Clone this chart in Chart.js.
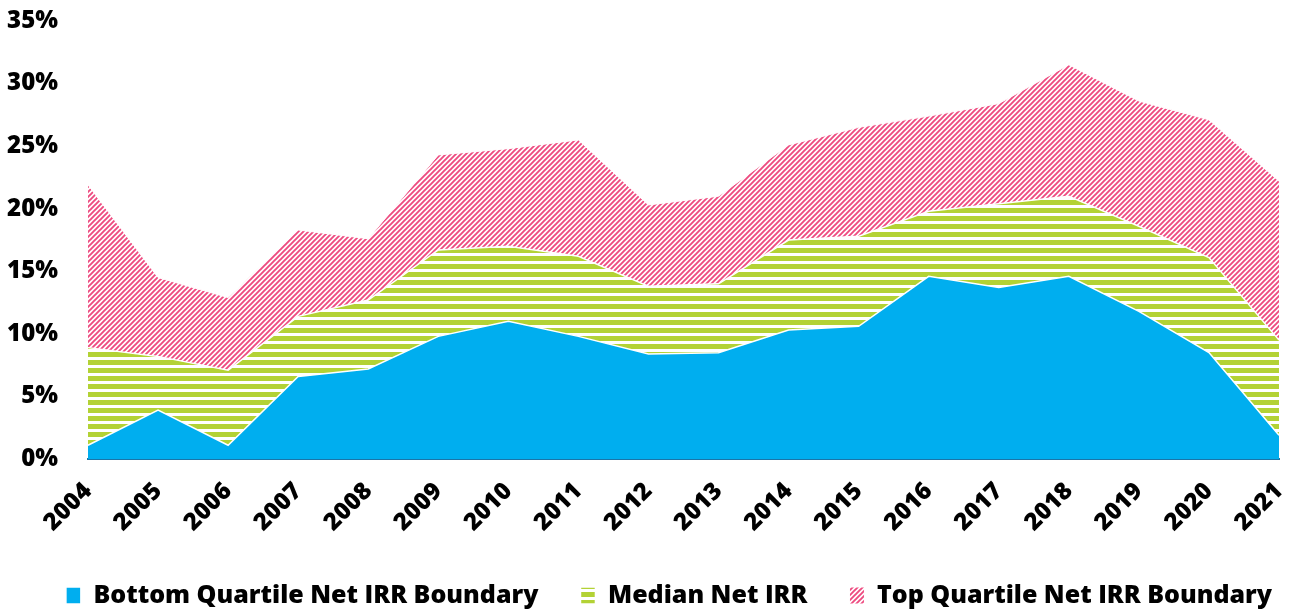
<!DOCTYPE html>
<html>
<head>
<meta charset="utf-8">
<script src="https://cdn.jsdelivr.net/npm/chart.js@4.4.1/dist/chart.umd.min.js"></script>
<style>
  html, body { margin: 0; padding: 0; background: #fff; }
  #wrap { width: 1292px; height: 609px; }
</style>
</head>
<body>
<div id="wrap"><canvas id="irrChart" width="1292" height="609"></canvas></div>
<script>
// vintage years
const years = ["2004","2005","2006","2007","2008","2009","2010","2011","2012",
  "2013","2014","2015","2016","2017","2018","2019","2020","2021"];

// net IRR boundaries, in %
const bottomQuartile = [1.1, 3.9, 1.1, 6.6, 7.2, 9.8, 11.0, 9.8, 8.4, 8.5, 10.3, 10.6, 14.6, 13.7, 14.6, 11.8, 8.5, 1.9];
const medianIrr      = [8.9, 8.2, 7.1, 11.4, 12.7, 16.7, 17.0, 16.2, 13.8, 14.0, 17.5, 17.8, 19.8, 20.4, 21.0, 18.6, 16.1, 9.5];
const topQuartile    = [21.9, 14.5, 12.9, 18.3, 17.6, 24.3, 24.8, 25.5, 20.3, 21.0, 25.1, 26.5, 27.4, 28.4, 31.5, 28.6, 27.1, 22.2];

const yTicks = [0, 5, 10, 15, 20, 25, 30, 35];

const BLUE = "#00AEEF";
const GREEN = "#B3D235";
const PINK = "#EE4B80";
const FONT = "'Open Sans', Lato, sans-serif";

// horizontal stripes for the median
function stripePattern() {
  const c = document.createElement("canvas");
  c.width = 8; c.height = 8;
  const g = c.getContext("2d");
  g.fillStyle = "#fff";
  g.fillRect(0, 0, 8, 8);
  g.fillStyle = GREEN;
  g.fillRect(0, 0, 8, 5);
  return g.createPattern(c, "repeat");
}

// diagonal hatch for top quartile
function hatchPattern() {
  const s = 5;
  const c = document.createElement("canvas");
  c.width = s; c.height = s;
  const g = c.getContext("2d");
  g.fillStyle = "#fff";
  g.fillRect(0, 0, s, s);
  g.strokeStyle = PINK;
  g.lineWidth = 1.9;
  g.beginPath();
  g.moveTo(-1, s + 1); g.lineTo(s + 1, -1);
  g.moveTo(-1, 1); g.lineTo(1, -1);
  g.moveTo(s - 1, s + 1); g.lineTo(s + 1, s - 1);
  g.stroke();
  return g.createPattern(c, "repeat");
}

// the original legend sits a bit right of centre
const legendShift = {
  id: "legendShift",
  afterLayout(chart) {
    if (!chart.legend) return;
    chart.legend.left += 23;
    chart.legend.right += 23;
  },
};

const ctx = document.getElementById("irrChart");

new Chart(ctx, {
  type: "line",
  data: {
    labels: years,
    datasets: [
      {
        label: "Bottom Quartile Net IRR Boundary",
        data: bottomQuartile,
        backgroundColor: BLUE,
        borderColor: "#fff",
        borderWidth: 1.5,
        fill: "origin",
        pointRadius: 0,
        tension: 0,
      },
      {
        label: "Median Net IRR",
        data: medianIrr,
        backgroundColor: stripePattern(),
        borderColor: "#fff",
        borderWidth: 1.5,
        fill: "origin",
        pointRadius: 0,
        tension: 0,
      },
      {
        label: "Top Quartile Net IRR Boundary",
        data: topQuartile,
        backgroundColor: hatchPattern(),
        borderColor: "#fff",
        borderWidth: 1,
        fill: "origin",
        pointRadius: 0,
        tension: 0,
      },
    ],
  },
  options: {
    responsive: false,
    animation: false,
    layout: { padding: { top: 21, right: 0, left: 0, bottom: -9 } },
    plugins: {
      tooltip: { enabled: false },
      legend: {
        position: "bottom",
        labels: {
          color: "#000",
          font: { family: FONT, size: 25, weight: "800" },
          boxWidth: 15,
          boxHeight: 17,
          padding: 42,
        },
      },
    },
    scales: {
      x: {
        offset: false,
        grid: { display: false, drawTicks: false },
        border: { display: true, color: "#1B75A8", width: 2 },
        ticks: {
          color: "#000",
          font: { family: FONT, size: 24, weight: "800" },
          maxRotation: 45,
          minRotation: 45,
          padding: 18,
          autoSkip: false,
        },
        afterFit: (s) => {
          s.height = 82;
          s.paddingLeft = 0;
          s.paddingRight = 13;
        },
      },
      y: {
        min: 0,
        max: 35,
        afterBuildTicks: (s) => { s.ticks = yTicks.map((v) => ({ value: v })); },
        grid: { display: false, drawTicks: false },
        border: { display: false },
        ticks: {
          color: "#000",
          font: { family: FONT, size: 24, weight: "800" },
          padding: 30,
          callback: (v) => v + "%",
        },
        afterFit: (s) => {
          s.width = 88;
          s.paddingTop = 0;
          s.paddingBottom = 0;
        },
      },
    },
  },
  plugins: [legendShift],
});
</script>
</body>
</html>
